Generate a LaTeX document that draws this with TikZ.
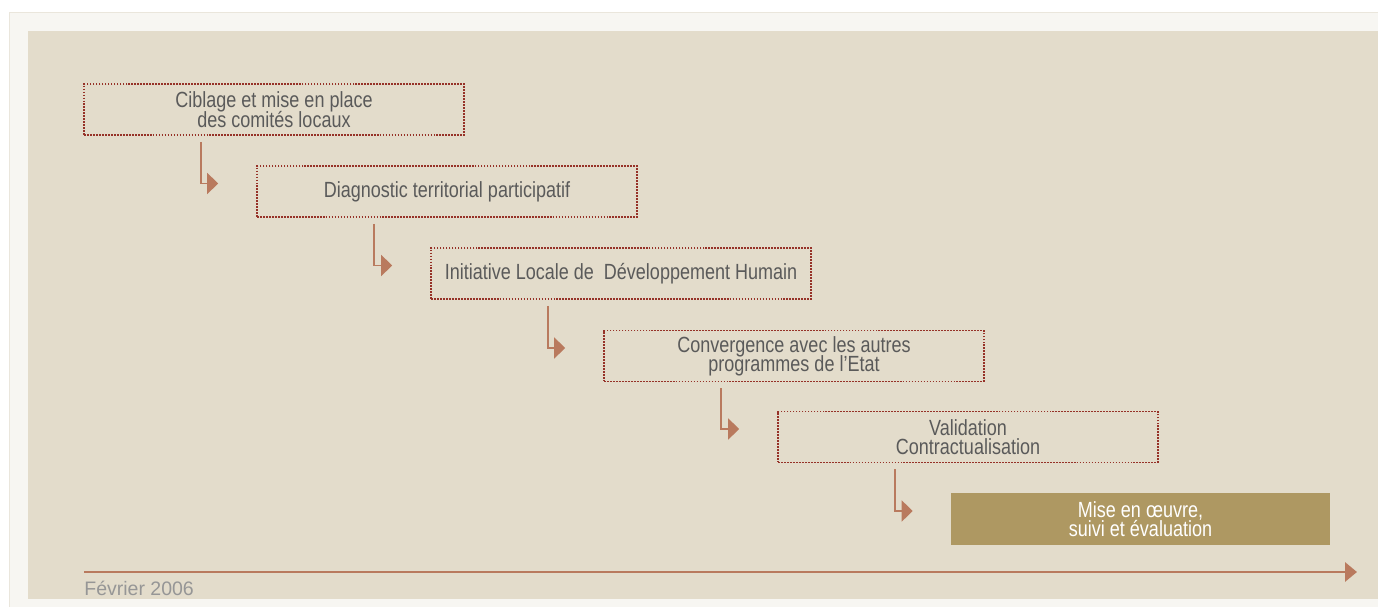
\documentclass[tikz,border=0pt]{standalone}
\usepackage{fontspec}
\setmainfont{Liberation Sans}[FakeStretch=0.82]
\newfontfamily\datefont{Liberation Sans}
\usetikzlibrary{arrows.meta, calc}
\definecolor{frameout}{RGB}{247, 246, 242}
\definecolor{frameline}{RGB}{234, 230, 220}
\definecolor{framein}{RGB}{227, 220, 203}
\definecolor{dotred}{RGB}{150, 50, 40}
\definecolor{arrowbrown}{RGB}{185, 122, 94}
\definecolor{goldbox}{RGB}{174, 152, 98}
\definecolor{textgrey}{RGB}{90, 90, 90}
\definecolor{dategrey}{RGB}{150, 150, 150}
\newcommand{\stagefont}{\fontsize{12.5}{11}\selectfont\lineskiplimit=-8pt\lineskip=0pt\relax}
\tikzset{>=latex}
\tikzset{
  stagebox/.style = {draw = dotred, line width = 1pt, dash pattern = on 1pt off 0.7pt,
    minimum width = 7.6cm, minimum height = 1.02cm, inner sep = 0pt, align = center,
    text = textgrey, font = \stagefont},
  lastbox/.style = {fill = goldbox, minimum width = 7.58cm, minimum height = 1.04cm,
    inner sep = 0pt, align = center, text = white, font = \stagefont},
  stepline/.style = {draw = arrowbrown, line width = 1.1pt,
    -{Triangle[length = 2.2mm, width = 4.2mm]}},
}

\begin{document}
\begin{tikzpicture}[x = 0.02cm, y = -0.02cm]
\useasboundingbox (0, 0) rectangle (1378, 607);
\fill[white] (0, 0) rectangle (1378, 607);
\draw[fill = frameout, draw = frameline, line width = 0.4pt] (9, 12) rectangle (1380, 610);
\fill[framein] (28, 31) rectangle (1378, 599);

% the six stages
\node[stagebox] (s1) at (274, 109.5) {Ciblage et mise en place\\des comités locaux};
\node[stagebox] (s2) at (447, 191.5) {Diagnostic territorial participatif};
\node[stagebox] (s3) at (621, 273.5) {Initiative Locale de~ Développement Humain};
\node[stagebox] (s4) at (794, 356) {Convergence avec les autres\\programmes de l’Etat};
\node[stagebox] (s5) at (968, 437) {Validation\\Contractualisation};
\node[lastbox] (s6) at (1140.5, 519) {Mise en œuvre,\\suivi et évaluation};

\foreach \a / \b in {s1/s2, s2/s3, s3/s4, s4/s5, s5/s6}{
	\draw[stepline] ($(\a.south west) + (118, 6)$) |- ($(\b.west) + (-38, -8)$);
}

% time line
\coordinate (tstart) at (84, 572);
\coordinate (tend) at (1357, 572);
\draw[draw = arrowbrown, line width = 1.7pt, -{Triangle[length = 2.4mm, width = 3.8mm]}] (tstart) -- (tend);
\node[anchor = base west, inner sep = 0pt, text = dategrey, font = \datefont\fontsize{11.1}{12}\selectfont] (date) at (84, 595.5) {Février 2006};

\end{tikzpicture}
\end{document}
